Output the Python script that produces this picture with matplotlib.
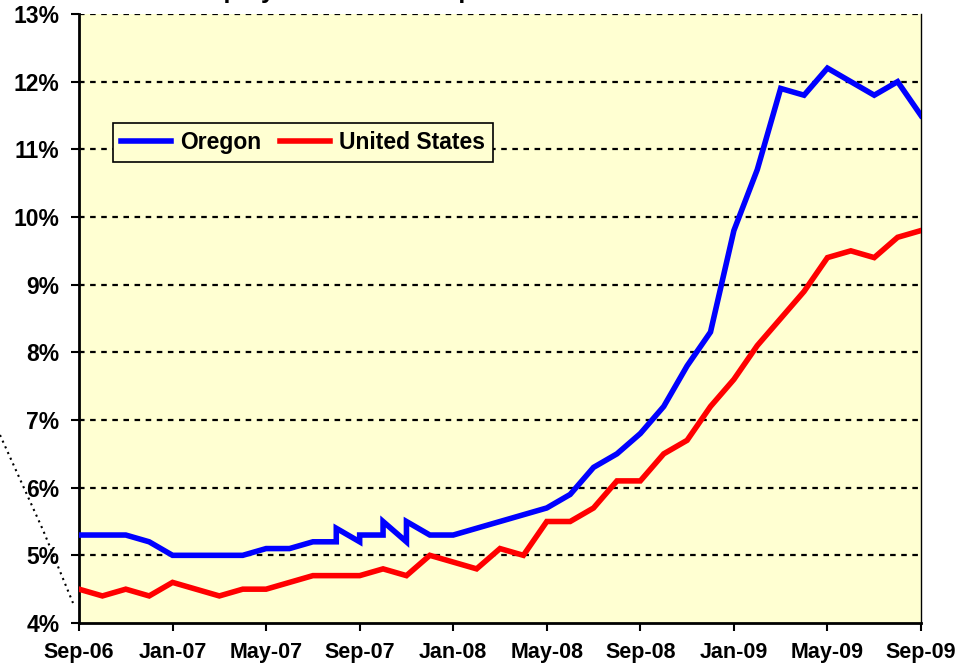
import matplotlib
matplotlib.use('Agg')
import matplotlib.pyplot as plt
import matplotlib.lines as mlines

plt.rcParams['font.family'] = ['Liberation Sans', 'DejaVu Sans']
plt.rcParams['font.weight'] = 'bold'

# month labels, Sep-06 .. Sep-09
month_labels = ['Sep-06', 'Oct-06', 'Nov-06', 'Dec-06',
                'Jan-07', 'Feb-07', 'Mar-07', 'Apr-07', 'May-07', 'Jun-07',
                'Jul-07', 'Aug-07', 'Sep-07', 'Oct-07', 'Nov-07', 'Dec-07',
                'Jan-08', 'Feb-08', 'Mar-08', 'Apr-08', 'May-08', 'Jun-08',
                'Jul-08', 'Aug-08', 'Sep-08', 'Oct-08', 'Nov-08', 'Dec-08',
                'Jan-09', 'Feb-09', 'Mar-09', 'Apr-09', 'May-09', 'Jun-09',
                'Jul-09', 'Aug-09', 'Sep-09']

us_rate = [4.5, 4.4, 4.5, 4.4,
           4.6, 4.5, 4.4, 4.5, 4.5, 4.6,
           4.7, 4.7, 4.7, 4.8, 4.7, 5.0,
           4.9, 4.8, 5.1, 5.0, 5.5, 5.5,
           5.7, 6.1, 6.1, 6.5, 6.7, 7.2,
           7.6, 8.1, 8.5, 8.9, 9.4, 9.5,
           9.4, 9.7, 9.8]

# Oregon series has repeated months (revised values)
oregon_months = ['Sep-06', 'Oct-06', 'Nov-06', 'Dec-06',
                 'Jan-07', 'Feb-07', 'Mar-07', 'Apr-07', 'May-07', 'Jun-07',
                 'Jul-07', 'Aug-07', 'Aug-07', 'Sep-07', 'Sep-07',
                 'Oct-07', 'Oct-07', 'Nov-07', 'Nov-07', 'Dec-07',
                 'Jan-08', 'Feb-08', 'Mar-08', 'Apr-08', 'May-08', 'Jun-08',
                 'Jul-08', 'Aug-08', 'Sep-08', 'Oct-08', 'Nov-08', 'Dec-08',
                 'Jan-09', 'Feb-09', 'Mar-09', 'Apr-09', 'May-09', 'Jun-09',
                 'Jul-09', 'Aug-09', 'Sep-09']
oregon_rate = [5.3, 5.3, 5.3, 5.2,
               5.0, 5.0, 5.0, 5.0, 5.1, 5.1,
               5.2, 5.2, 5.4, 5.2, 5.3,
               5.3, 5.5, 5.2, 5.5, 5.3,
               5.3, 5.4, 5.5, 5.6, 5.7, 5.9,
               6.3, 6.5, 6.8, 7.2, 7.8, 8.3,
               9.8, 10.7, 11.9, 11.8, 12.2, 12.0,
               11.8, 12.0, 11.5]

tick_labels = ['Sep-06', 'Jan-07', 'May-07', 'Sep-07', 'Jan-08',
               'May-08', 'Sep-08', 'Jan-09', 'May-09', 'Sep-09']
y_ticks = [4, 5, 6, 7, 8, 9, 10, 11, 12, 13]

idx = {m: i for i, m in enumerate(month_labels)}
us_x = list(range(len(month_labels)))
or_x = [idx[m] for m in oregon_months]

fig = plt.figure(figsize=(9.63, 6.66), dpi=100)
ax = fig.add_axes([79 / 963, 43 / 666, 842 / 963, 609 / 666])
ax.set_facecolor('#FFFFD2')

for y in y_ticks[1:]:
    ax.axhline(y, color='black', lw=1.6, ls=(0, (2.5, 2.5)), zorder=1)

ax.plot(or_x, oregon_rate, color='#0000FF', lw=4.0, label='Oregon',
        solid_joinstyle='miter', zorder=3)
ax.plot(us_x, us_rate, color='#FF0000', lw=4.0, label='United States',
        solid_joinstyle='miter', zorder=3)

ax.set_xlim(0, len(month_labels) - 1)
ax.set_ylim(4, 13)
ax.set_xticks([idx[t] for t in tick_labels])
ax.set_xticklabels(tick_labels)
ax.set_yticks(y_ticks)
ax.set_yticklabels([f'{v}%' for v in y_ticks])

ax.tick_params(axis='both', direction='out', length=6, width=1.5,
               color='black')
ax.tick_params(axis='x', labelsize=15.5, pad=8)
ax.tick_params(axis='y', labelsize=16.5, pad=8)

ax.spines['top'].set_visible(False)
ax.spines['left'].set_linewidth(2)
ax.spines['bottom'].set_linewidth(2)
ax.spines['right'].set_linewidth(1)

leg = ax.legend(loc='upper left', bbox_to_anchor=(0.040, 0.821),
                borderaxespad=0, ncol=2, fancybox=False,
                edgecolor='black', facecolor='#FFFFD2', framealpha=1,
                prop={'size': 16.5, 'weight': 'bold'},
                handlelength=2.2, handletextpad=0.4, columnspacing=0.8,
                borderpad=0.35)
leg.get_frame().set_linewidth(1.2)

# title sits above the visible canvas, only descenders show
fig.text(154 / 963, 1.0035, 'Unemployment Rate Comparison', fontsize=18,
         fontweight='bold', ha='left', va='baseline')

# leftover dotted leader line on the left edge
fig.add_artist(mlines.Line2D([0, 43 / 963, 73 / 963],
                             [1 - 435 / 666, 1 - 530 / 666, 1 - 603 / 666],
                             color='black', lw=1.5, ls=(0, (1, 2))))

fig.savefig('out.png', dpi=100)
